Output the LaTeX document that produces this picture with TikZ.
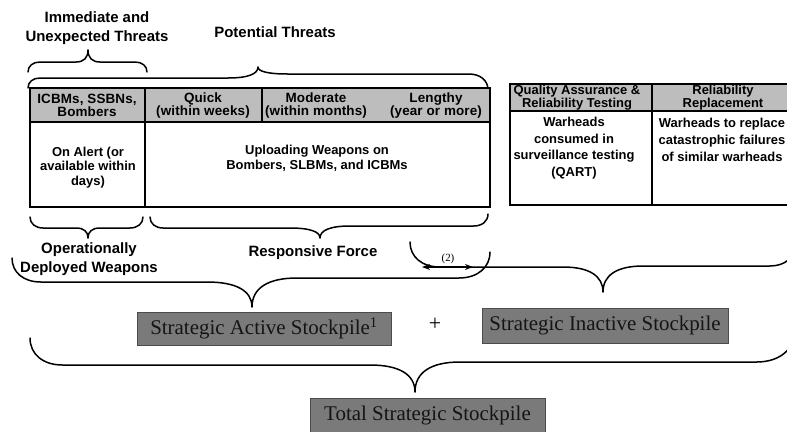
\documentclass[tikz,border=0pt]{standalone}
\usepackage{fontspec}
\setmainfont{Liberation Serif}
\setsansfont{Liberation Sans}
\usetikzlibrary{arrows.meta}

% brace: left end (#1,#2), left flat y #3, tip (#4,#5), right flat y #6, right end (#7,#8), tip width #9
\newcommand\curlybrace[9]{%
  \draw[brc] (#1,#2)
    .. controls (#1,{#2+0.6*(#3-#2)}) and ({#1+0.48*abs(#3-#2)},#3) .. ({#1+1.2*abs(#3-#2)},#3)
    -- ({#4-#9},#3)
    .. controls ({#4-0.35*#9},#3) and (#4,{#3+0.35*(#5-#3)}) .. (#4,#5)
    .. controls (#4,{#6+0.35*(#5-#6)}) and ({#4+0.35*#9},#6) .. ({#4+#9},#6)
    -- ({#7-1.2*abs(#6-#8)},#6)
    .. controls ({#7-0.48*abs(#6-#8)},#6) and (#7,{#8+0.6*(#6-#8)}) .. (#7,#8);}

\tikzset{
  lbl/.style={font=\fontsize{15}{19}\selectfont\sffamily\bfseries, align=center, inner sep=0},
  hdr/.style={font=\fontsize{13.5}{13}\selectfont\sffamily\bfseries\addfontfeature{LetterSpace=1},
    align=center, inner sep=0},
  hdrb/.style={font=\fontsize{13}{11.5}\selectfont\sffamily\bfseries, align=center, inner sep=0},
  bdy/.style={font=\fontsize{13}{14.5}\selectfont\sffamily\bfseries, align=center, inner sep=0},
  bdyb/.style={font=\fontsize{13}{16.7}\selectfont\sffamily\bfseries, align=center, inner sep=0},
  grid/.style={line width=1.1bp, draw=black},
  headfill/.style={fill=black!26},
  brc/.style={line width=1.5bp, line cap=round, line join=round},
  stock/.style={fill=black!52, draw=black!70, line width=0.8bp, text=black!92,
    font=\fontsize{21}{21}\selectfont, inner sep=0},
}

\begin{document}
\begin{tikzpicture}[x=1bp, y=-1bp]
\path[use as bounding box] (0,0) rectangle (787,431);
\clip (0,0) rectangle (787,431);

% ---- threat labels on top
\node[lbl] (immediate) at (97,28) {Immediate and\\Unexpected Threats};
\node[lbl] (potential) at (275,32) {Potential Threats};
\curlybrace{28}{72}{62}{88}{50}{62}{147}{72}{12}
\curlybrace{28}{88}{78}{258}{67}{74}{488}{90}{30}

% ---- force table
\fill[headfill] (30,88) rectangle (490,122);
\draw[grid] (30,88) rectangle (490,207);
\draw[grid] (30,122) -- (490,122);
\draw[grid] (145,88) -- (145,207);
\draw[grid] (262,88) -- (262,122);

\node[hdr] (hICBM) at (87,105.5) {ICBMs, SSBNs,\\Bombers};
\node[hdr] (hQuick) at (203,105.5) {Quick\\(within weeks)};
\node[hdr] (hModerate) at (316,105.5) {Moderate\\(within months)};
\node[hdr] (hLengthy) at (436,105.5) {Lengthy\\(year or more)};
\node[bdy] (alert) at (88,167.5) {On Alert (or\\available within\\days)};
\node[bdy] (upload) at (317,158.5) {Uploading Weapons on\\Bombers, SLBMs, and ICBMs};

% ---- reserve table
\fill[headfill] (510,84) rectangle (800,111);
\draw[grid] (510,84) rectangle (800,205);
\draw[grid] (510,111) -- (800,111);
\draw[grid] (652,84) -- (652,205);

\node[hdrb] (hQA) at (577,97.5) {Quality Assurance \&\\Reliability Testing};
\node[hdrb] (hRR) at (723,97.5) {Reliability\\Replacement};
\node[bdyb] (qart) at (574,148) {Warheads\\consumed in\\surveillance testing\\(QART)};
\node[bdyb] (repl) at (722,140) {Warheads to replace\\catastrophic failures\\of similar warheads};

% ---- braces under the force table
\curlybrace{30}{217}{228}{88}{238}{228}{143}{217}{12}
\curlybrace{150}{217}{228}{320}{238}{226}{488}{214}{30}
\node[lbl] (operational) at (89,259) {Operationally\\Deployed Weapons};
\node[lbl] (responsive) at (313,253) {Responsive Force};

% ---- stockpile braces
\curlybrace{12}{258}{282}{252}{307}{278}{490}{252}{45}
\curlybrace{410}{242}{267}{603}{292}{266}{795}{245}{40}
\curlybrace{30}{338}{365}{415}{392}{362}{795}{330}{45}

% ---- transfer arrow
\coordinate (arrL) at (422,267);
\coordinate (arrR) at (473,267);
\draw[line width=1.5bp, {Stealth[length=8bp,width=6bp]}-{Stealth[length=8bp,width=6bp]}] (arrL) -- (arrR);
\node[font=\fontsize{11}{11}\selectfont, inner sep=0] (two) at (448,259) {(2)};

% ---- stockpile boxes
\node[stock, minimum width=254bp, minimum height=33bp] (active) at (264,328.5)
  {Strategic Active Stockpile\textsuperscript{1}};
\node[font=\fontsize{22}{22}\selectfont, inner sep=0] (plus) at (435,324) {+};
\node[stock, minimum width=246bp, minimum height=35bp] (inactive) at (605,325.5)
  {Strategic Inactive Stockpile};
\node[stock, minimum width=235bp, minimum height=34bp] (total) at (427.5,415)
  {Total Strategic Stockpile};
\end{tikzpicture}
\end{document}
